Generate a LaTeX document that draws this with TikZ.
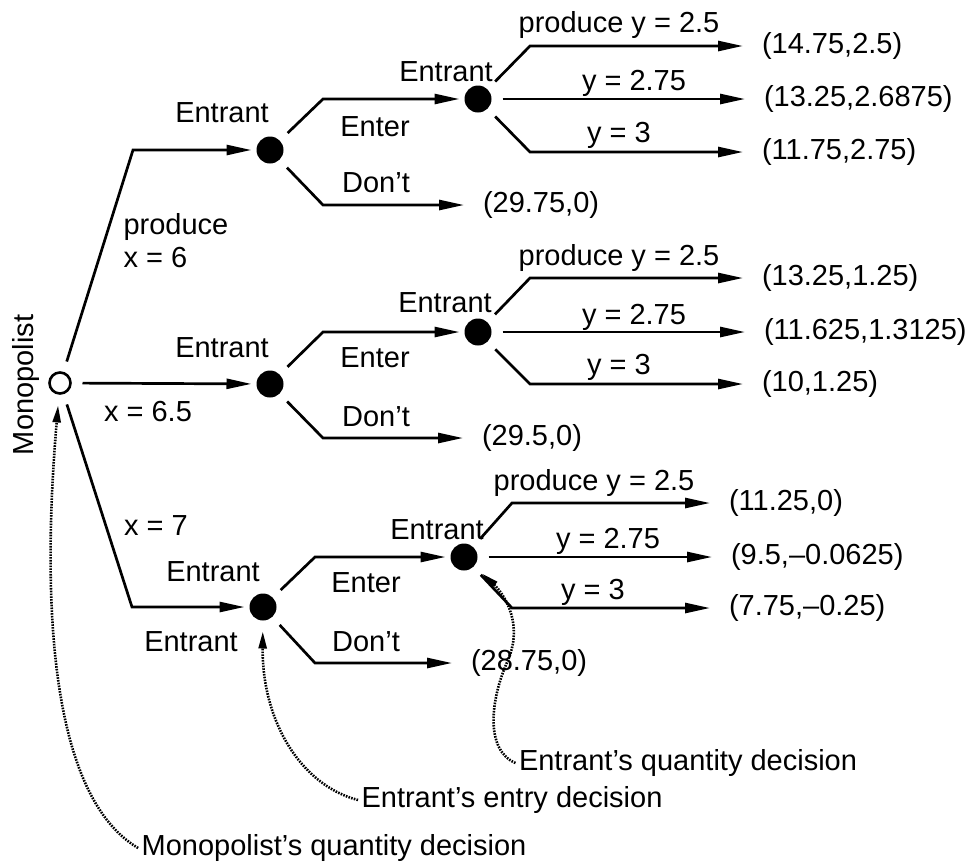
\documentclass[tikz,border=0pt]{standalone}
\usepackage{fontspec}
\setmainfont{Liberation Sans}
\usetikzlibrary{arrows.meta,calc}

\begin{document}
\begin{tikzpicture}[x=1pt, y=-1pt, >={Triangle[length=25pt,width=10pt]},
  every node/.style={font=\fontsize{29}{33}\selectfont, align=center},
  rootnode/.style={circle, draw, line width=2.6pt, inner sep=0pt, minimum size=21pt, outer sep=6pt},
  decnode/.style={circle, fill=black, inner sep=0pt, minimum size=27pt, outer sep=5pt},
  branch/.style={->, line width=2.7pt, shorten <=6pt},
  payoff/.style={anchor=west, inner xsep=19pt, outer sep=0pt},
  callout/.style={-{Triangle[length=17pt,width=8pt]}, line width=2.6pt,
                  dash pattern=on 1.6pt off 1.2pt, shorten >=6pt}]
  \useasboundingbox (0,0) rectangle (968,863);

  % decision nodes
  \node[rootnode] (m) at (60,383) {};
  \node[rotate=90] (mlab) at (26,385) {Monopolist};

  \node[decnode] (e1) at (270,150) {};
  \node[decnode] (e2) at (270,384) {};
  \node[decnode] (e3) at (263,607) {};

  \node[decnode] (q1) at (478,99) {};
  \node[decnode] (q2) at (478,332) {};
  \node[decnode] (q3) at (464,557) {};

  % payoffs
  \node[payoff] (d1) at (464,205) {(29.75,0)};
  \node[payoff] (d2) at (463,438) {(29.5,0)};
  \node[payoff] (d3) at (452,663) {(28.75,0)};

  \node[payoff] (p11) at (743,46)  {(14.75,2.5)};
  \node[payoff] (p12) at (745,99)  {(13.25,2.6875)};
  \node[payoff] (p13) at (743,152) {(11.75,2.75)};
  \node[payoff] (p21) at (743,278) {(13.25,1.25)};
  \node[payoff] (p22) at (745,332) {(11.625,1.3125)};
  \node[payoff] (p23) at (743,384) {(10,1.25)};
  \node[payoff] (p31) at (710,503) {(11.25,0)};
  \node[payoff] (p32) at (712,557) {(9.5,--0.0625)};
  \node[payoff] (p33) at (710,608) {(7.75,--0.25)};

  % monopolist's moves
  \draw[branch] (m) -- (133,150) -- (e1);
  \draw[branch] (m) -- (e2);
  \draw[branch] (m) -- (132,607) -- (e3);

  % entry moves
  \draw[branch] (e1) -- (323,99)  -- (q1);
  \draw[branch] (e1) -- (323,205) -- (d1);
  \draw[branch] (e2) -- (323,332) -- (q2);
  \draw[branch] (e2) -- (323,438) -- (d2);
  \draw[branch] (e3) -- (315,557) -- (q3);
  \draw[branch] (e3) -- (315,663) -- (d3);

  % quantity moves
  \draw[branch] (q1) -- (530,46)  -- (p11);
  \draw[branch] (q1) -- (p12);
  \draw[branch] (q1) -- (530,152) -- (p13);
  \draw[branch] (q2) -- (530,278) -- (p21);
  \draw[branch] (q2) -- (p22);
  \draw[branch] (q2) -- (530,384) -- (p23);
  \draw[branch] (q3) -- (512,503) -- (p31);
  \draw[branch] (q3) -- (p32);
  \draw[branch] (q3) -- (512,608) -- (p33);

  % labels
  \node[align=left, anchor=west] (lx6) at (120,241) {produce\\x = 6};
  \node (lx65) at (148,412) {x = 6.5};
  \node (lx7)  at (156,526) {x = 7};

  \node (le1)  at (222,113) {Entrant};
  \node (le2)  at (222,348) {Entrant};
  \node (le3)  at (213,572) {Entrant};
  \node (le3b) at (191,642) {Entrant};
  \node (lq1)  at (446,72)  {Entrant};
  \node (lq2)  at (445,303) {Entrant};
  \node (lq3)  at (437,530) {Entrant};

  \node (en1) at (375,127) {Enter};
  \node (en2) at (375,358) {Enter};
  \node (en3) at (366,583) {Enter};
  \node (dn1) at (376,183) {Don’t};
  \node (dn2) at (376,417) {Don’t};
  \node (dn3) at (366,642) {Don’t};

  \node (y11) at (619,25)  {produce y = 2.5};
  \node (y12) at (634,83)  {y = 2.75};
  \node (y13) at (619,135) {y = 3};
  \node (y21) at (619,258) {produce y = 2.5};
  \node (y22) at (634,317) {y = 2.75};
  \node (y23) at (619,367) {y = 3};
  \node (y31) at (594,483) {produce y = 2.5};
  \node (y32) at (608,541) {y = 2.75};
  \node (y33) at (593,592) {y = 3};

  % callouts
  \node (cq) at (688,763) {Entrant’s quantity decision};
  \node (ce) at (512,800) {Entrant’s entry decision};
  \node (cm) at (334,848) {Monopolist’s quantity decision};

  \draw[callout] (cm.west) .. controls (40,790) and (45,560) .. (m);
  \draw[callout] (ce.west) .. controls (300,785) and (262,720) .. (e3);
  \draw[callout] (cq.west) .. controls (485,750) and (490,700) .. (508,660)
                 .. controls (525,620) and (500,590) .. (q3);
\end{tikzpicture}
\end{document}
